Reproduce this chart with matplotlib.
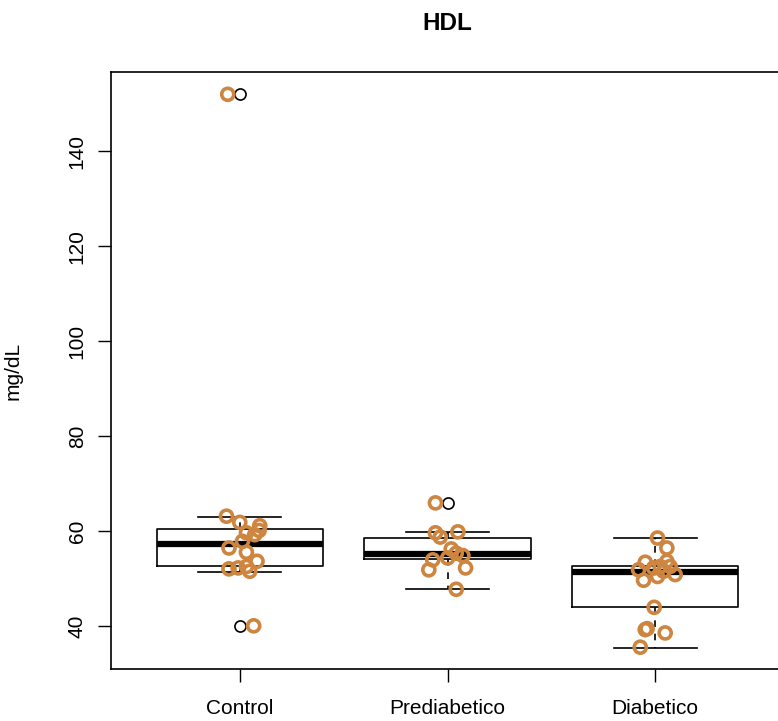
import matplotlib.pyplot as plt

plt.rcParams["font.family"] = ["Liberation Sans", "DejaVu Sans"]

groups = ["Control", "Prediabetico", "Diabetico"]
orange = "#CD853F"

# box statistics: whislo, q1, median, q3, whishi
box_stats = {
    "Control":      [51.4, 52.7, 57.2, 60.3, 63.0],
    "Prediabetico": [47.7, 54.0, 55.2, 58.5, 59.7],
    "Diabetico":    [35.4, 43.9, 51.4, 52.7, 58.6],
}
outliers = {
    "Control": [152.0, 39.9],
    "Prediabetico": [65.9],
    "Diabetico": [],
}

# jittered points (value, x offset from group centre)
control_vals = [63.1, 61.8, 61.1, 60.1, 59.6, 59.2, 57.8, 56.4, 55.5, 53.6,
                52.0, 52.2, 52.5, 51.5, 40.0, 152.0]
control_jit = [-0.064, 0.0, 0.096, 0.093, 0.032, 0.072, 0.013, -0.052, 0.032, 0.083,
               -0.052, -0.008, 0.032, 0.048, 0.067, -0.058]
pre_vals = [59.6, 58.7, 59.8, 56.2, 55.3, 54.8, 54.3, 53.9, 51.8, 52.2, 47.7, 65.9]
pre_jit = [-0.058, -0.035, 0.050, 0.018, 0.042, 0.074, 0.001, -0.071, -0.090, 0.087,
           0.042, -0.058]
dia_vals = [58.5, 56.4, 53.4, 53.6, 51.8, 52.2, 52.5, 52.5, 51.5, 50.8, 50.4, 49.6,
            43.9, 39.2, 39.4, 38.5, 35.5]
dia_jit = [0.011, 0.056, -0.048, 0.056, -0.080, -0.008, 0.024, 0.072, 0.040, 0.096,
           0.011, -0.056, -0.005, -0.048, -0.039, 0.048, -0.072]

fig = plt.figure(figsize=(7.78, 7.21), dpi=100)
ax = fig.add_axes([111 / 778, 52 / 721, 673 / 778, 597 / 721])

stats = []
for g in groups:
    lo, q1, med, q3, hi = box_stats[g]
    stats.append(dict(whislo=lo, q1=q1, med=med, q3=q3, whishi=hi, fliers=outliers[g]))

ax.bxp(stats, positions=[1, 2, 3], widths=0.8, capwidths=0.4,
       boxprops=dict(color="black", linewidth=1.2),
       medianprops=dict(color="black", linewidth=4.5, solid_capstyle="butt"),
       whiskerprops=dict(color="black", linewidth=1.2, linestyle=(0, (4, 4))),
       capprops=dict(color="black", linewidth=1.2),
       flierprops=dict(marker="o", markerfacecolor="none", markeredgecolor="black",
                       markersize=8, markeredgewidth=1.2))

for pos, vals, jit in [(1, control_vals, control_jit), (2, pre_vals, pre_jit),
                       (3, dia_vals, dia_jit)]:
    ax.scatter([pos + j for j in jit], vals, s=75, facecolors="none",
               edgecolors=orange, linewidths=2.6, zorder=5)

ax.set_xlim(0.38, 3.62)
ax.set_ylim(30.9, 156.7)
ax.set_yticks([40, 60, 80, 100, 120, 140])
ax.set_xticks([1, 2, 3])
ax.set_xticklabels(groups)
ax.tick_params(axis="both", labelsize=15, length=9.4, width=1, direction="out")
ax.tick_params(axis="x", pad=12)
ax.tick_params(axis="y", pad=8)
for lab in ax.get_yticklabels():
    lab.set_rotation(90)
    lab.set_va("center")
ax.set_ylabel("mg/dL", fontsize=15)
ax.yaxis.set_label_coords(-0.132, 0.5)
for s in ax.spines.values():
    s.set_linewidth(1.2)

ax.set_title("HDL", fontsize=17.5, fontweight="bold", pad=30)

fig.savefig("out.png", dpi=100)
